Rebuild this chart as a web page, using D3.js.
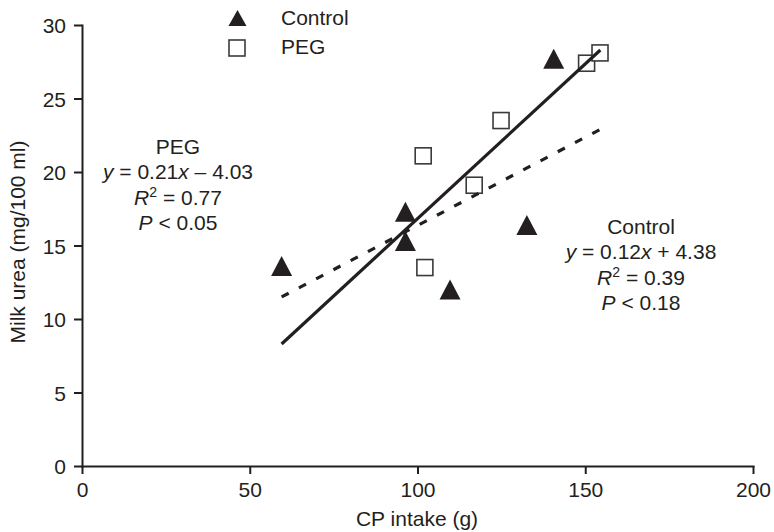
<!DOCTYPE html>
<html>
<head>
<meta charset="utf-8">
<script src="https://cdn.jsdelivr.net/npm/d3@7"></script>
<style>
  html, body { margin: 0; padding: 0; background: #fff; }
  svg { display: block; font-family: "Liberation Sans", Arial, Helvetica, sans-serif; }
  .axis path, .axis line { stroke: #231f20; stroke-width: 2; }
  .axis text { font-size: 21px; fill: #231f20; font-family: "Liberation Sans", Arial, sans-serif; }
</style>
</head>
<body>
<svg id="chart" width="774" height="532"></svg>
<script>
// ---- data ----
const xTicks = [0, 50, 100, 150, 200];
const yTicks = [0, 5, 10, 15, 20, 25, 30];

const controlX = [59.5, 96.4, 96.4, 109.7, 132.6, 140.6];
const controlY = [13.6, 17.3, 15.3, 12.0, 16.4, 27.7];

const pegX = [101.7, 102.2, 116.9, 124.9, 150.4, 154.4];
const pegY = [21.1, 13.5, 19.1, 23.5, 27.4, 28.1];

const pegLineX = [59.5, 154.5];
const pegLineY = [8.3, 28.3];
const controlLineX = [59.5, 154.5];
const controlLineY = [11.5, 22.9];

const seriesNames = ["Control", "PEG"];
const pegStats = ["PEG", "y = 0.21x – 4.03", "R2 = 0.77", "P < 0.05"];
const controlStats = ["Control", "y = 0.12x + 4.38", "R2 = 0.39", "P < 0.18"];

// ---- chart ----
const ink = "#231f20";
const FS = 21;
const svg = d3.select("#chart");
const x = d3.scaleLinear().domain([0, 200]).range([82, 753]);
const y = d3.scaleLinear().domain([0, 30]).range([466, 25]);

const xAxis = svg.append("g").attr("class", "axis")
  .attr("transform", `translate(0,${y(0)})`)
  .call(d3.axisBottom(x).tickValues(xTicks).tickSize(8).tickSizeOuter(0).tickPadding(4));
xAxis.selectAll("text").attr("dy", null).attr("y", 31);

const yAxis = svg.append("g").attr("class", "axis")
  .attr("transform", `translate(${x(0)},0)`)
  .call(d3.axisLeft(y).tickValues(yTicks).tickSize(8).tickSizeOuter(0).tickPadding(8));
yAxis.selectAll("text").attr("dy", "0.36em").attr("x", -16);
svg.selectAll(".axis .domain").attr("stroke-linecap", "square");

// axis titles
svg.append("text").attr("x", 417).attr("y", 526).attr("text-anchor", "middle")
  .attr("font-size", FS).attr("fill", ink).text("CP intake (g)");
svg.append("text").attr("transform", "translate(25,242) rotate(-90)")
  .attr("text-anchor", "middle").attr("font-size", FS).attr("fill", ink)
  .text("Milk urea (mg/100 ml)");

// markers
function triPath(w, h) {
  return `M0,${-h/2}L${w/2},${h/2}L${-w/2},${h/2}Z`;
}
const controlData = controlX.map((d, i) => ({x: d, y: controlY[i]}));
const pegData = pegX.map((d, i) => ({x: d, y: pegY[i]}));

svg.append("g").selectAll("path").data(controlData).join("path")
  .attr("d", triPath(21, 20))
  .attr("transform", d => `translate(${x(d.x)},${y(d.y)})`)
  .attr("fill", ink);

svg.append("g").selectAll("rect").data(pegData).join("rect")
  .attr("x", d => x(d.x) - 8).attr("y", d => y(d.y) - 8)
  .attr("width", 16).attr("height", 16)
  .attr("fill", "#fff").attr("stroke", "#3a3a3a").attr("stroke-width", 1.6);

// regression lines
const line = d3.line().x(d => x(d[0])).y(d => y(d[1]));
svg.append("path")
  .attr("d", line(pegLineX.map((d, i) => [d, pegLineY[i]])))
  .attr("fill", "none").attr("stroke", ink).attr("stroke-width", 3.2);
svg.append("path")
  .attr("d", line(controlLineX.map((d, i) => [d, controlLineY[i]])))
  .attr("fill", "none").attr("stroke", ink).attr("stroke-width", 3.2)
  .attr("stroke-dasharray", "8,11.5");

// legend
svg.append("path").attr("d", triPath(18, 16)).attr("transform", "translate(237.5,18)").attr("fill", ink);
svg.append("rect").attr("x", 229).attr("y", 40).attr("width", 16).attr("height", 16)
  .attr("fill", "#fff").attr("stroke", "#3a3a3a").attr("stroke-width", 1.6);
svg.append("text").attr("x", 281).attr("y", 24.5).attr("font-size", FS).attr("fill", ink).text(seriesNames[0]);
svg.append("text").attr("x", 281).attr("y", 53.5).attr("font-size", FS).attr("fill", ink).text(seriesNames[1]);

// annotations
function annotate(cx, baselines, lines) {
  const g = svg.append("g").attr("font-size", FS).attr("fill", ink).attr("text-anchor", "middle");
  g.append("text").attr("x", cx).attr("y", baselines[0]).text(lines[0]);
  const m = lines[1].match(/^y = ([\d.]+)x (.) ([\d.]+)$/);
  const t1 = g.append("text").attr("x", cx).attr("y", baselines[1]);
  t1.append("tspan").attr("font-style", "italic").text("y");
  t1.append("tspan").text(" = " + m[1]);
  t1.append("tspan").attr("font-style", "italic").text("x");
  t1.append("tspan").text(" " + m[2] + " " + m[3]);
  const r = lines[2].split(" = ")[1];
  const t2 = g.append("text").attr("x", cx).attr("y", baselines[2]);
  t2.append("tspan").attr("font-style", "italic").text("R");
  t2.append("tspan").attr("font-size", 14).attr("dy", -8).text("2");
  t2.append("tspan").attr("dy", 8).text(" = " + r);
  const p = lines[3].split(" < ")[1];
  const t3 = g.append("text").attr("x", cx).attr("y", baselines[3]);
  t3.append("tspan").attr("font-style", "italic").text("P");
  t3.append("tspan").text(" < " + p);
}
annotate(178, [153.5, 179, 204.5, 230], pegStats);
annotate(641, [233.5, 259, 284.5, 310], controlStats);
</script>
</body>
</html>
